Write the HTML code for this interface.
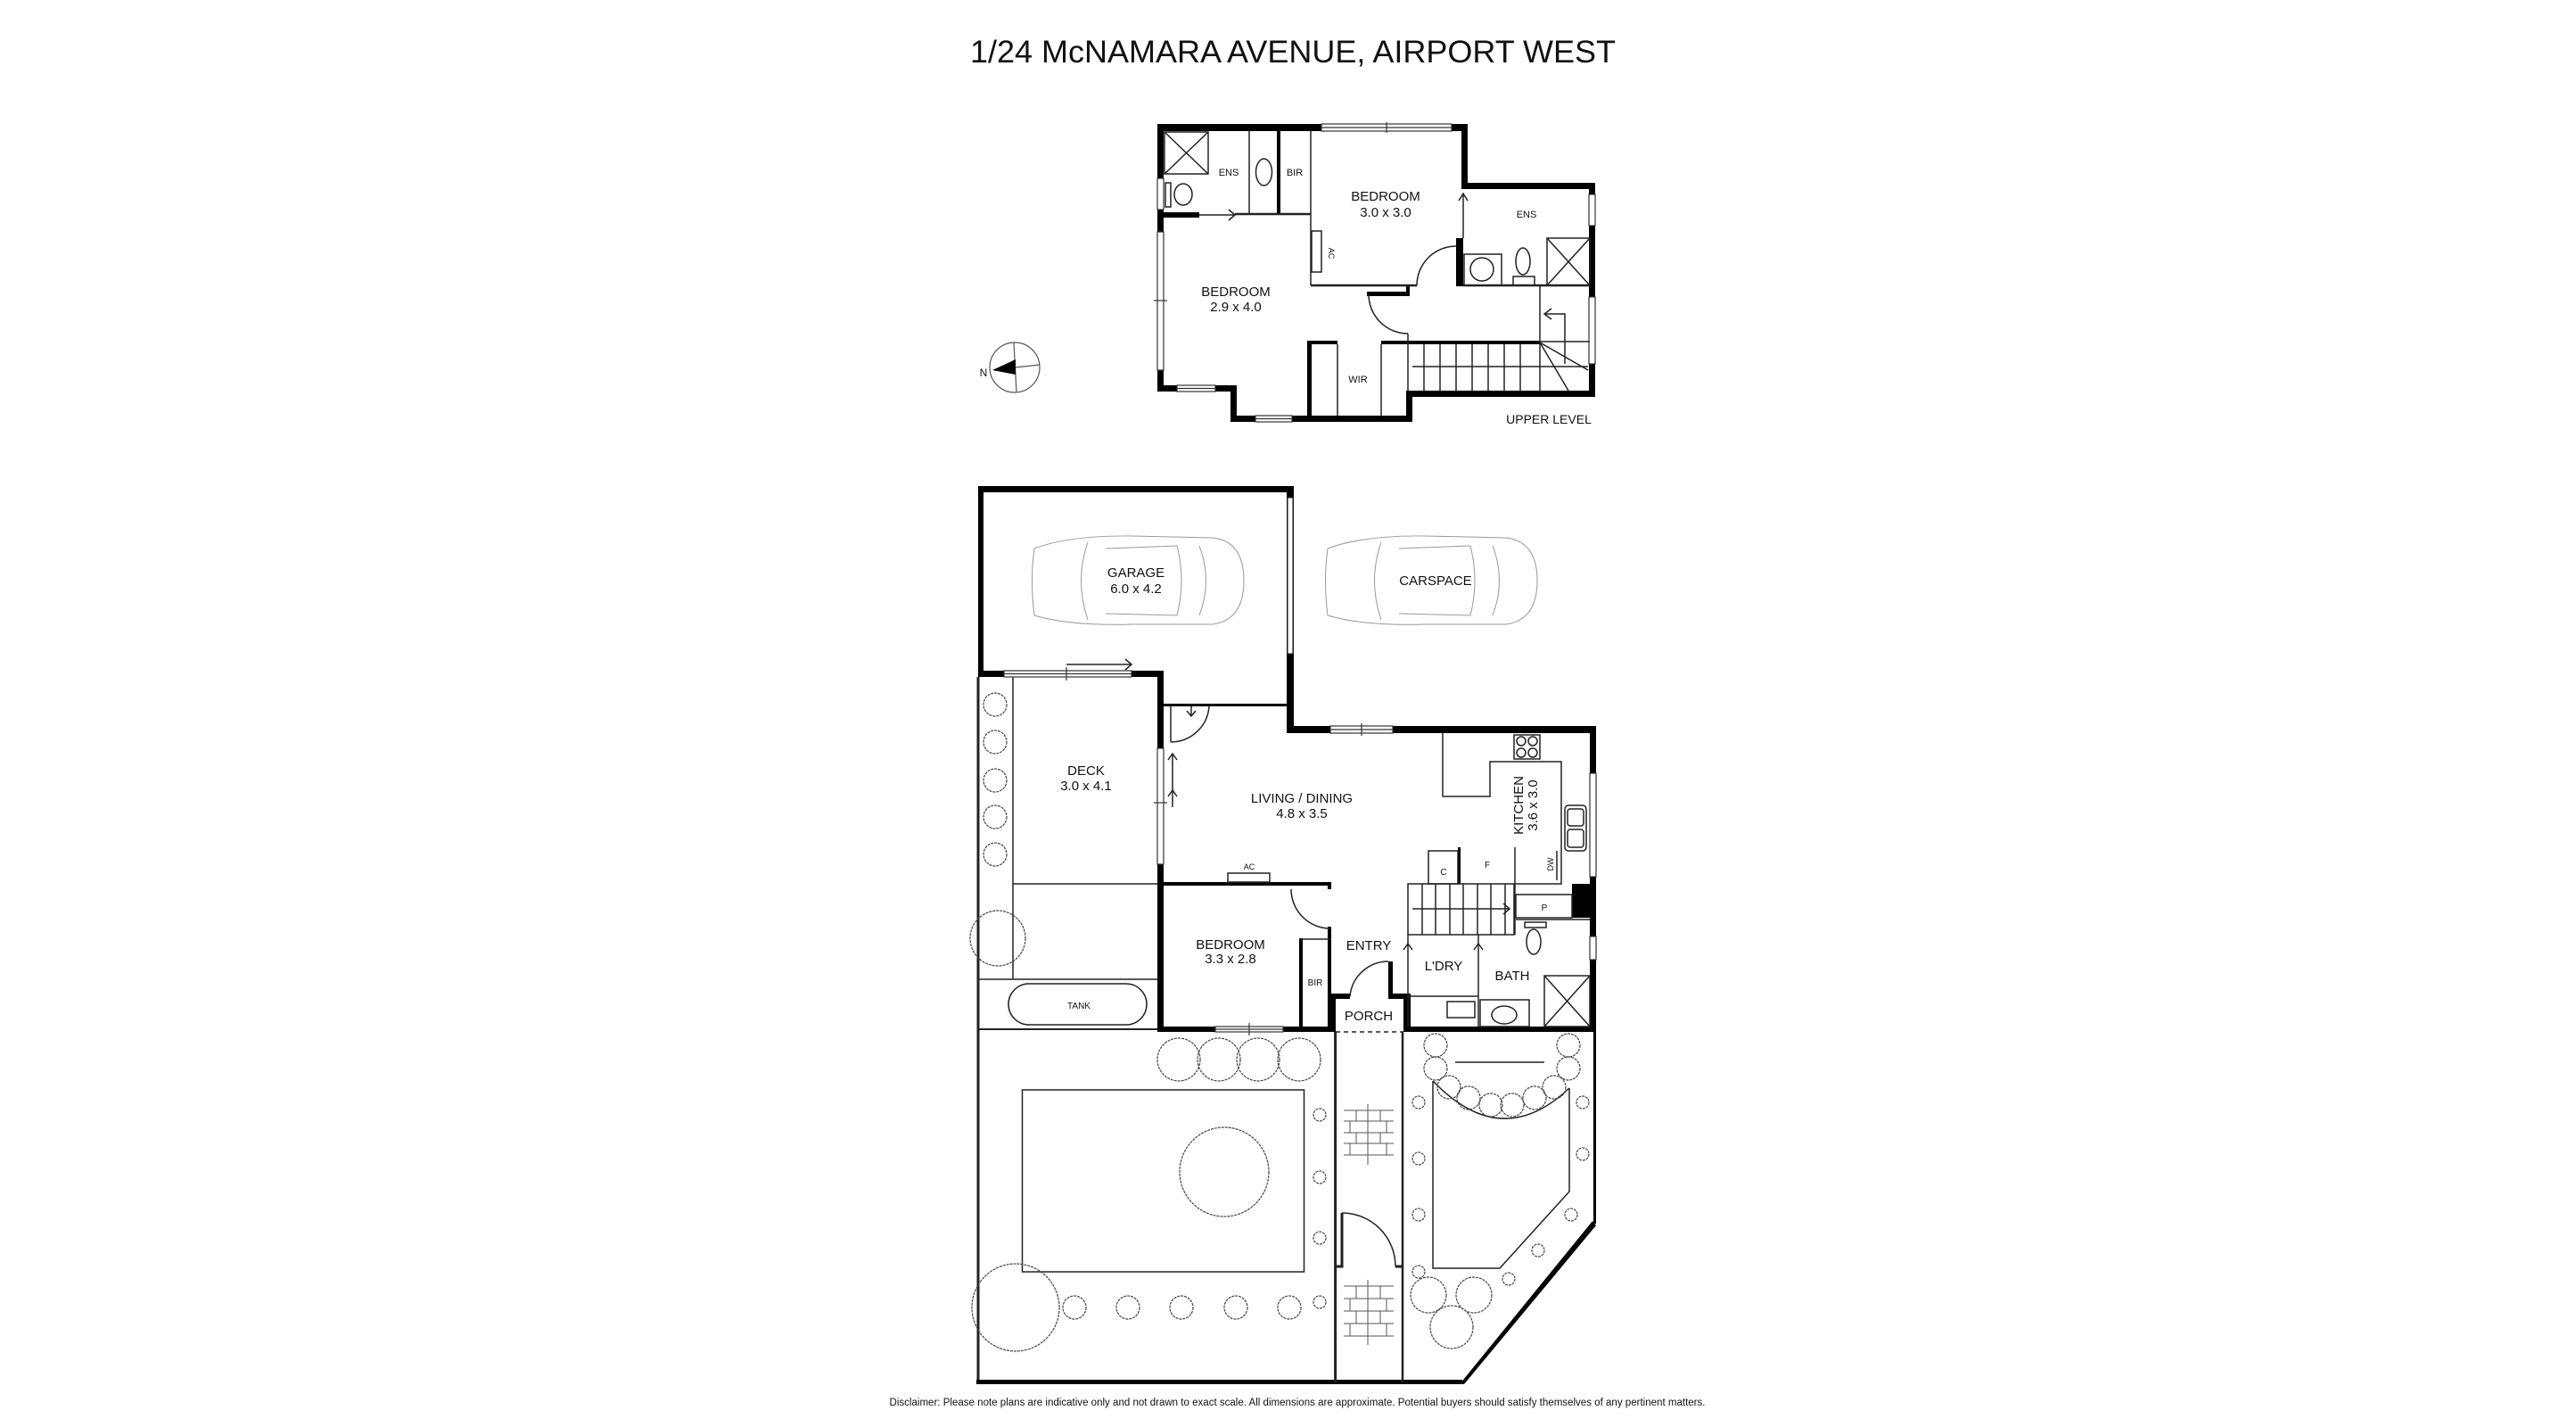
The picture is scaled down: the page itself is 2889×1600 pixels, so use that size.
<!DOCTYPE html>
<html><head><meta charset="utf-8"><style>
html,body{margin:0;padding:0;background:#fff;}
svg{display:block;}
text{font-family:"Liberation Sans",Arial,sans-serif;fill:#111;}
</style></head><body>
<svg width="2889" height="1600" viewBox="0 0 2889 1600" xmlns="http://www.w3.org/2000/svg">
<rect width="2889" height="1600" fill="#fff"/>
<text x="1450" y="70" font-size="35" text-anchor="middle" textLength="724" lengthAdjust="spacingAndGlyphs">1/24 McNAMARA AVENUE, AIRPORT WEST</text>

<!-- ============ UPPER LEVEL ============ -->
<g fill="#000">
<rect x="1298" y="139" width="348" height="8"/>
<rect x="1639" y="139" width="7" height="73"/>
<rect x="1639" y="205" width="150" height="7"/>
<rect x="1782" y="205" width="7" height="240"/>
<rect x="1577" y="438" width="212" height="7"/>
<rect x="1577" y="438" width="7" height="35"/>
<rect x="1380" y="466" width="204" height="7"/>
<rect x="1380" y="432" width="7" height="41"/>
<rect x="1298" y="432" width="89" height="7"/>
<rect x="1298" y="139" width="7" height="300"/>
<rect x="1305" y="238" width="40" height="6"/>
<rect x="1432" y="147" width="4" height="93"/>
<rect x="1633" y="267" width="8" height="54"/>
<rect x="1533" y="327" width="47" height="5"/>
<rect x="1577" y="320" width="4" height="12"/>
<rect x="1577" y="382" width="150" height="4"/>
<rect x="1466" y="382" width="5" height="88"/>
<rect x="1466" y="382" width="34" height="4"/>
<rect x="1549" y="382" width="31" height="4"/>
</g>
<g fill="#fff" stroke="#333" stroke-width="1.2">
<rect x="1482" y="139" width="146" height="8"/><line x1="1482" y1="143" x2="1628" y2="143"/><line x1="1555" y1="137" x2="1555" y2="149"/>
<rect x="1782" y="218" width="7" height="35"/>
<rect x="1782" y="333" width="7" height="75"/>
<rect x="1408" y="466" width="41" height="7"/><line x1="1408" y1="469.5" x2="1449" y2="469.5"/>
<rect x="1320" y="432" width="43" height="7"/><line x1="1320" y1="435.5" x2="1363" y2="435.5"/>
<rect x="1298" y="200" width="7" height="35"/>
<rect x="1298" y="260" width="7" height="155"/><line x1="1294" y1="337" x2="1309" y2="337"/>
</g>
<g fill="none" stroke="#222" stroke-width="1.5">
<rect x="1306" y="148" width="49" height="47"/><line x1="1306" y1="148" x2="1355" y2="195"/><line x1="1355" y1="148" x2="1306" y2="195"/>
<ellipse cx="1417.5" cy="193" rx="9" ry="15"/>
<line x1="1401" y1="147" x2="1401" y2="239"/>
<line x1="1470" y1="147" x2="1470" y2="320"/>
<line x1="1345" y1="241" x2="1385" y2="241"/><polyline points="1378,235 1385,241 1378,247"/>
<line x1="1385" y1="240" x2="1470" y2="240" stroke-width="2.5"/>
<rect x="1307" y="205" width="6" height="27"/><ellipse cx="1327" cy="218" rx="10" ry="12"/>
<rect x="1471" y="259" width="11" height="46"/>
<line x1="1470" y1="320" x2="1589" y2="320" stroke-width="2.5"/>
<path d="M1589,320 A44,44 0 0 1 1633,276"/>
<line x1="1641" y1="217" x2="1641" y2="267"/><polyline points="1636,225 1641,217 1646,225"/>
<line x1="1641" y1="320" x2="1783" y2="320" stroke-width="2.5"/>
<rect x="1642" y="285" width="42" height="35"/><circle cx="1662" cy="302" r="13"/>
<ellipse cx="1708" cy="293" rx="8" ry="15"/><rect x="1697" y="310" width="24" height="10"/>
<rect x="1735" y="267" width="48" height="53"/><line x1="1735" y1="267" x2="1783" y2="320"/><line x1="1783" y1="267" x2="1735" y2="320"/>
<path d="M1535,330 A44,44 0 0 0 1579,374"/>
<line x1="1579" y1="374" x2="1579" y2="438"/>
<line x1="1597" y1="386" x2="1597" y2="438"/><line x1="1615" y1="386" x2="1615" y2="438"/><line x1="1633" y1="386" x2="1633" y2="438"/><line x1="1651" y1="386" x2="1651" y2="438"/><line x1="1669" y1="386" x2="1669" y2="438"/><line x1="1687" y1="386" x2="1687" y2="438"/><line x1="1705" y1="386" x2="1705" y2="438"/>
<line x1="1584" y1="411" x2="1781" y2="411"/>
<line x1="1727" y1="320" x2="1727" y2="438"/>
<line x1="1727" y1="383" x2="1783" y2="383"/>
<line x1="1727" y1="384" x2="1759" y2="438"/><line x1="1727" y1="384" x2="1781" y2="415"/>
<polyline points="1755,408 1755,352 1732,352"/><polyline points="1740,346 1732,352 1740,358"/>
<line x1="1500" y1="386" x2="1500" y2="467"/>
<line x1="1549" y1="386" x2="1549" y2="467"/>
</g>
<g font-size="11" text-anchor="middle">
<text x="1378" y="197">ENS</text><text x="1452" y="197">BIR</text>
<text x="1712" y="244">ENS</text><text x="1523" y="429">WIR</text>
<text x="1490" y="284" font-size="9" transform="rotate(90 1490 284)">AC</text>
</g>
<g font-size="15" text-anchor="middle">
<text x="1554" y="225">BEDROOM</text><text x="1554" y="243">3.0 x 3.0</text>
<text x="1386" y="332">BEDROOM</text><text x="1386" y="349">2.9 x 4.0</text>
<text x="1737" y="475" font-size="14">UPPER LEVEL</text>
</g>
<g stroke="#555" stroke-width="1.2" fill="none">
<ellipse cx="1138" cy="412" rx="28" ry="28"/>
<line x1="1137" y1="384" x2="1140" y2="440"/><line x1="1138" y1="412" x2="1166" y2="409"/>
</g>
<polygon points="1113,415 1139,403 1139,420" fill="#000"/>
<text x="1103" y="422" font-size="12" text-anchor="middle">N</text>

<!-- ============ LOWER LEVEL ============ -->
<g fill="#000">
<rect x="1097" y="545" width="354" height="7"/>
<rect x="1097" y="545" width="6" height="214"/>
<rect x="1443" y="545" width="8" height="276"/>
<rect x="1097" y="752" width="208" height="7"/>
<rect x="1298" y="752" width="7" height="405"/>
<rect x="1305" y="789" width="139" height="3"/>
<rect x="1443" y="814" width="347" height="8"/>
<rect x="1783" y="814" width="7" height="343"/>
<rect x="1763" y="991" width="20" height="38"/>
<rect x="1305" y="989" width="187" height="4"/>
<rect x="1489" y="989" width="4" height="8"/>
<rect x="1489" y="1039" width="4" height="118"/>
<rect x="1457" y="1052" width="4" height="103"/>
<rect x="1298" y="1151" width="200" height="6"/>
<rect x="1492" y="1114" width="6" height="43"/>
<rect x="1492" y="1114" width="22" height="6"/>
<rect x="1557" y="1078" width="5" height="42"/>
<rect x="1557" y="1114" width="25" height="6"/>
<rect x="1574" y="1114" width="8" height="43"/>
<rect x="1574" y="1151" width="216" height="6"/>
<rect x="1635" y="950" width="3" height="41"/>
</g>
<g fill="#fff" stroke="#333" stroke-width="1.2">
<rect x="1444" y="558" width="6" height="175"/>
<rect x="1126" y="752" width="143" height="7"/><line x1="1126" y1="755.5" x2="1269" y2="755.5"/><line x1="1196" y1="748" x2="1196" y2="763"/>
<rect x="1298" y="839" width="7" height="130"/><line x1="1294" y1="900" x2="1309" y2="900"/>
<rect x="1492" y="814" width="70" height="8"/><line x1="1492" y1="818" x2="1562" y2="818"/><line x1="1527" y1="811" x2="1527" y2="825"/>
<rect x="1783" y="867" width="7" height="116"/>
<rect x="1783" y="1050" width="7" height="26"/>
<rect x="1363" y="1151" width="76" height="6"/><line x1="1363" y1="1154" x2="1439" y2="1154"/><line x1="1401" y1="1147" x2="1401" y2="1161"/>
</g>
<g fill="none" stroke="#222" stroke-width="1.5">
<line x1="1196" y1="745" x2="1269" y2="745"/><polyline points="1262,739 1269,745 1262,751"/>
<line x1="1313" y1="792" x2="1313" y2="832"/><path d="M1313,832 A43,43 0 0 0 1356,792"/>
<line x1="1336" y1="792" x2="1336" y2="803"/><polyline points="1331,797 1336,803 1341,797"/>
<line x1="1315" y1="845" x2="1315" y2="905"/><polyline points="1310,852 1315,845 1320,852"/>
<polyline points="1310,893 1315,886 1320,893"/>
<line x1="1097" y1="759" x2="1097" y2="1550" stroke-width="3"/>
<line x1="1136" y1="759" x2="1136" y2="1098"/>
<line x1="1136" y1="991" x2="1298" y2="991"/>
<line x1="1097" y1="1098" x2="1298" y2="1098"/>
<line x1="1097" y1="1154" x2="1298" y2="1154" stroke-width="2"/>
<rect x="1131" y="1103" width="155" height="46" rx="23"/>
<rect x="1377" y="979" width="47" height="10"/>
<path d="M1448,997 A44,44 0 0 0 1492,1041"/>
<line x1="1457" y1="1053" x2="1492" y2="1053"/>
<path d="M1514,1117 A43,43 0 0 1 1557,1078"/>
<line x1="1498" y1="1157" x2="1574" y2="1157" stroke-dasharray="5,4"/>
<rect x="1579" y="991" width="119" height="57"/>
<line x1="1595" y1="991" x2="1595" y2="1048"/><line x1="1610" y1="991" x2="1610" y2="1048"/><line x1="1626" y1="991" x2="1626" y2="1048"/><line x1="1641" y1="991" x2="1641" y2="1048"/><line x1="1657" y1="991" x2="1657" y2="1048"/><line x1="1672" y1="991" x2="1672" y2="1048"/><line x1="1688" y1="991" x2="1688" y2="1048"/>
<line x1="1584" y1="1019" x2="1693" y2="1019"/><polyline points="1686,1013 1693,1019 1686,1025"/>
<line x1="1579" y1="1048" x2="1579" y2="1151"/><polyline points="1574,1065 1579,1058 1584,1065"/>
<line x1="1658" y1="1048" x2="1658" y2="1151"/><polyline points="1653,1065 1658,1058 1663,1065"/>
<line x1="1579" y1="1117" x2="1658" y2="1117"/>
<rect x="1623" y="1123" width="31" height="18"/>
<rect x="1660" y="1121" width="55" height="30"/><ellipse cx="1687" cy="1138" rx="14" ry="10"/>
<rect x="1732" y="1094" width="51" height="57"/><line x1="1732" y1="1094" x2="1783" y2="1151"/><line x1="1783" y1="1094" x2="1732" y2="1151"/>
<rect x="1710" y="1034" width="24" height="6"/><ellipse cx="1720" cy="1056" rx="8" ry="14"/>
<rect x="1700" y="1003" width="63" height="26"/>
<line x1="1700" y1="1031" x2="1783" y2="1031"/>
<polyline points="1618,822 1618,893 1671,893 1671,854 1751,854 1751,991 1699,991"/>
<line x1="1699" y1="950" x2="1699" y2="1048"/>
<rect x="1698" y="824" width="29" height="27"/>
<circle cx="1706" cy="831" r="5"/><circle cx="1719" cy="831" r="5"/><circle cx="1706" cy="844" r="5"/><circle cx="1719" cy="844" r="5"/>
<rect x="1755" y="903" width="24" height="51" rx="4"/><rect x="1758" y="907" width="18" height="19" rx="3"/><rect x="1758" y="930" width="18" height="20" rx="3"/>
<line x1="1746" y1="954" x2="1746" y2="987"/>
<rect x="1602" y="954" width="33" height="37"/>
</g>
<g fill="none" stroke="#444" stroke-width="1.2" stroke-dasharray="3,1">
<circle cx="1116" cy="790" r="13"/><circle cx="1116" cy="832" r="13"/><circle cx="1116" cy="875" r="13"/><circle cx="1116" cy="916" r="13"/><circle cx="1116" cy="958" r="13"/>
<circle cx="1119" cy="1052" r="31"/>
</g>
<g fill="none" stroke="#999" stroke-width="1">
<path d="M1160,615 Q1155,650 1160,690 Q1200,702 1270,700 L1360,700 Q1395,695 1395,651 Q1395,607 1360,603 L1270,601 Q1200,600 1160,615 Z"/>
<path d="M1220,608 Q1205,651 1220,695"/><path d="M1345,612 Q1360,651 1345,690"/>
<path d="M1240,615 L1320,612 Q1330,651 1320,690 L1240,688"/>
<path d="M1489,615 Q1484,650 1489,690 Q1529,702 1599,700 L1689,700 Q1724,695 1724,651 Q1724,607 1689,603 L1599,601 Q1529,600 1489,615 Z"/>
<path d="M1549,608 Q1534,651 1549,695"/><path d="M1674,612 Q1689,651 1674,690"/>
<path d="M1569,615 L1649,612 Q1659,651 1649,690 L1569,688"/>
</g>
<g font-size="15" text-anchor="middle">
<text x="1274" y="647">GARAGE</text><text x="1274" y="665">6.0 x 4.2</text>
<text x="1610" y="656">CARSPACE</text>
<text x="1218" y="869">DECK</text><text x="1218" y="886">3.0 x 4.1</text>
<text x="1460" y="900">LIVING / DINING</text><text x="1460" y="917">4.8 x 3.5</text>
<text x="1380" y="1064">BEDROOM</text><text x="1380" y="1080">3.3 x 2.8</text>
<text x="1535" y="1065">ENTRY</text>
<text x="1535" y="1144">PORCH</text>
<text x="1619" y="1088">L'DRY</text>
<text x="1696" y="1099">BATH</text>
<text transform="translate(1708 903) rotate(-90)" x="0" y="0">KITCHEN</text>
<text transform="translate(1724 903) rotate(-90)" x="0" y="0">3.6 x 3.0</text>
</g>
<g font-size="10" text-anchor="middle">
<text x="1401" y="975" font-size="9">AC</text>
<text x="1475" y="1105">BIR</text>
<text x="1210" y="1131">TANK</text>
<text x="1619" y="981">C</text>
<text x="1668" y="973">F</text>
<text x="1732" y="1021">P</text>
<text transform="translate(1742 969) rotate(-90)" font-size="9">DW</text>
</g>

<!-- ============ GARDEN ============ -->
<g fill="#000">
<rect x="1095" y="1547" width="545" height="5"/>
<polygon points="1637,1552 1642,1552 1790,1374 1786,1369"/>
<rect x="1787" y="1157" width="3" height="215"/>
</g>
<g fill="none" stroke="#222" stroke-width="1.5">
<line x1="1497.6" y1="1157" x2="1497.6" y2="1550" stroke-width="3"/>
<line x1="1573" y1="1157" x2="1573" y2="1550" stroke-width="2.5"/>
<polyline points="1498,1420 1505,1420 1505,1360" stroke-width="3"/>
<path d="M1505,1360 A60,60 0 0 1 1565,1420"/>
<line x1="1565" y1="1420" x2="1573" y2="1420" stroke-width="3"/>
<rect x="1146.5" y="1222" width="316" height="204"/>
<polyline points="1607,1212 1607,1422 1682,1422 1760,1336 1760,1220"/>
<path d="M1607,1212 Q1684,1292 1760,1220"/>
<line x1="1632" y1="1191" x2="1732" y2="1191"/>
</g>
<g fill="none" stroke="#555" stroke-width="1">
<line x1="1507" y1="1245" x2="1563" y2="1245"/><line x1="1507" y1="1257" x2="1563" y2="1257"/><line x1="1507" y1="1270" x2="1563" y2="1270"/><line x1="1507" y1="1282" x2="1563" y2="1282"/><line x1="1507" y1="1295" x2="1563" y2="1295"/>
<line x1="1534" y1="1238" x2="1534" y2="1306"/>
<line x1="1521" y1="1245" x2="1521" y2="1257"/><line x1="1548" y1="1245" x2="1548" y2="1257"/>
<line x1="1514" y1="1257" x2="1514" y2="1270"/><line x1="1555" y1="1257" x2="1555" y2="1270"/>
<line x1="1521" y1="1270" x2="1521" y2="1282"/><line x1="1548" y1="1270" x2="1548" y2="1282"/>
<line x1="1514" y1="1282" x2="1514" y2="1295"/><line x1="1555" y1="1282" x2="1555" y2="1295"/>
<line x1="1507" y1="1442" x2="1563" y2="1442"/><line x1="1507" y1="1456" x2="1563" y2="1456"/><line x1="1507" y1="1470" x2="1563" y2="1470"/><line x1="1507" y1="1484" x2="1563" y2="1484"/><line x1="1507" y1="1498" x2="1563" y2="1498"/>
<line x1="1534" y1="1435" x2="1534" y2="1508"/>
<line x1="1521" y1="1442" x2="1521" y2="1456"/><line x1="1548" y1="1442" x2="1548" y2="1456"/>
<line x1="1514" y1="1456" x2="1514" y2="1470"/><line x1="1555" y1="1456" x2="1555" y2="1470"/>
<line x1="1521" y1="1470" x2="1521" y2="1484"/><line x1="1548" y1="1470" x2="1548" y2="1484"/>
<line x1="1514" y1="1484" x2="1514" y2="1498"/><line x1="1555" y1="1484" x2="1555" y2="1498"/>
</g>
<g fill="none" stroke="#444" stroke-width="1.2" stroke-dasharray="3,1">
<circle cx="1322" cy="1188" r="24"/><circle cx="1367" cy="1188" r="24"/><circle cx="1411" cy="1188" r="24"/><circle cx="1457" cy="1188" r="24"/>
<circle cx="1373" cy="1314" r="50"/>
<circle cx="1139" cy="1466" r="49"/>
<circle cx="1205" cy="1466" r="13"/><circle cx="1265" cy="1466" r="13"/><circle cx="1325" cy="1466" r="13"/><circle cx="1386" cy="1466" r="13"/><circle cx="1446" cy="1466" r="13"/>
<circle cx="1480" cy="1250" r="7"/><circle cx="1480" cy="1320" r="7"/><circle cx="1480" cy="1388" r="7"/><circle cx="1480" cy="1460" r="7"/>
<circle cx="1591" cy="1236" r="7"/><circle cx="1591" cy="1299" r="7"/><circle cx="1591" cy="1362" r="7"/><circle cx="1591" cy="1426" r="7"/>
<circle cx="1775" cy="1236" r="7"/><circle cx="1775" cy="1294" r="7"/><circle cx="1762" cy="1362" r="7"/><circle cx="1725" cy="1402" r="7"/><circle cx="1692" cy="1434" r="7"/>
<circle cx="1610" cy="1172" r="13"/><circle cx="1610" cy="1198" r="13"/><circle cx="1625" cy="1219" r="13"/><circle cx="1647" cy="1231" r="13"/><circle cx="1672" cy="1239" r="13"/><circle cx="1696" cy="1239" r="13"/><circle cx="1721" cy="1231" r="13"/><circle cx="1743" cy="1219" r="13"/><circle cx="1759" cy="1198" r="13"/><circle cx="1759" cy="1172" r="13"/>
<circle cx="1602" cy="1452" r="20"/><circle cx="1653" cy="1452" r="20"/><circle cx="1628" cy="1488" r="24"/>
</g>

<text x="1455" y="1576" font-size="11.5" text-anchor="middle" textLength="915" lengthAdjust="spacingAndGlyphs">Disclaimer: Please note plans are indicative only and not drawn to exact scale. All dimensions are approximate. Potential buyers should satisfy themselves of any pertinent matters.</text>
</svg>
</body></html>
